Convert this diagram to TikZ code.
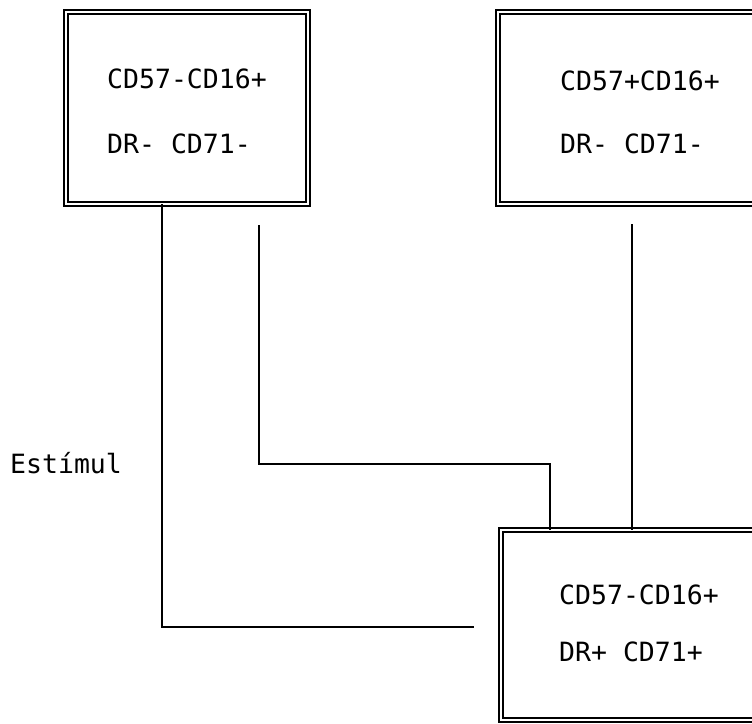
\documentclass[tikz,border=0pt]{standalone}
\usepackage{fontspec}
\newfontfamily\plotfont{DejaVu Sans Mono}
\begin{document}
\begin{tikzpicture}[x=1pt,y=-1pt,
  cellbox/.style={draw=black, double=white, line width=1.8pt, double distance=2.4pt,
    minimum width=#1, inner sep=0pt, outer sep=0pt},
  lbl/.style={anchor=base west, inner sep=0pt, font=\plotfont\fontsize{26.5}{30}\selectfont},
  wire/.style={draw=black, line width=1.6pt}]
\clip (0,0) rectangle (752,723);
\fill[white] (0,0) rectangle (752,723);
% boxes
\node[cellbox=242pt, minimum height=192pt] (b1) at (187,108) {};
\node[cellbox=302pt, minimum height=192pt] (b2) at (649,108) {};
\node[cellbox=299pt, minimum height=190pt] (b3) at (650.5,625) {};
% texts
\node[lbl] (t1a) at (107,88) {CD57-CD16+};
\node[lbl] (t1b) at (107,153) {DR- CD71-};
\node[lbl] (t2a) at (560,90) {CD57+CD16+};
\node[lbl] (t2b) at (560,153) {DR- CD71-};
\node[lbl] (t3a) at (559,604) {CD57-CD16+};
\node[lbl] (t3b) at (559,661) {DR+ CD71+};
\node[lbl] (est) at (10,473) {Estímul};
% connector helper coordinates
\coordinate (x1) at (162,0);
\coordinate (e1) at (474,627);
\coordinate (s2) at (259,225);
\coordinate (k2) at (550,464);
\coordinate (s3) at (632,224);
% connectors
\draw[wire] (b1.south -| x1) |- (e1);
\draw[wire] (s2) |- (k2) -- (k2 |- b3.north);
\draw[wire] (s3) -- (s3 |- b3.north);
\end{tikzpicture}
\end{document}
